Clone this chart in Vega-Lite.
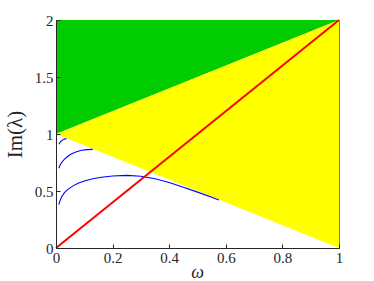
{
  "$schema": "https://vega.github.io/schema/vega-lite/v6.json",
  "width": 283,
  "height": 228,
  "autosize": {"type": "none"},
  "padding": {"left": 56, "top": 20, "right": 35, "bottom": 33},
  "background": "white",
  "config": {
    "view": {"stroke": "#7f7f7f", "strokeWidth": 1}
  },
  "datasets": {
    "regions": [
      {"region": "green", "w": 0, "lo": 1, "hi": 2},
      {"region": "green", "w": 1, "lo": 2, "hi": 2},
      {"region": "yellow", "w": 0, "lo": 1, "hi": 1},
      {"region": "yellow", "w": 1, "lo": 0, "hi": 2}
    ],
    "redline": [
      {"w": 0, "v": 0},
      {"w": 1, "v": 2}
    ],
    "curves": [
      {"curve": "c1", "w": 0.01, "v": 0.38},
      {"curve": "c1", "w": 0.015, "v": 0.42},
      {"curve": "c1", "w": 0.02, "v": 0.45},
      {"curve": "c1", "w": 0.03, "v": 0.485},
      {"curve": "c1", "w": 0.04, "v": 0.51},
      {"curve": "c1", "w": 0.06, "v": 0.545},
      {"curve": "c1", "w": 0.08, "v": 0.57},
      {"curve": "c1", "w": 0.1, "v": 0.588},
      {"curve": "c1", "w": 0.13, "v": 0.607},
      {"curve": "c1", "w": 0.16, "v": 0.62},
      {"curve": "c1", "w": 0.2, "v": 0.632},
      {"curve": "c1", "w": 0.25, "v": 0.637},
      {"curve": "c1", "w": 0.3, "v": 0.63},
      {"curve": "c1", "w": 0.35, "v": 0.608},
      {"curve": "c1", "w": 0.4, "v": 0.575},
      {"curve": "c1", "w": 0.45, "v": 0.533},
      {"curve": "c1", "w": 0.5, "v": 0.49},
      {"curve": "c1", "w": 0.55, "v": 0.445},
      {"curve": "c1", "w": 0.575, "v": 0.422},
      {"curve": "c2", "w": 0.01, "v": 0.70},
      {"curve": "c2", "w": 0.015, "v": 0.73},
      {"curve": "c2", "w": 0.02, "v": 0.75},
      {"curve": "c2", "w": 0.03, "v": 0.78},
      {"curve": "c2", "w": 0.04, "v": 0.80},
      {"curve": "c2", "w": 0.05, "v": 0.82},
      {"curve": "c2", "w": 0.07, "v": 0.843},
      {"curve": "c2", "w": 0.09, "v": 0.857},
      {"curve": "c2", "w": 0.11, "v": 0.863},
      {"curve": "c2", "w": 0.13, "v": 0.865},
      {"curve": "c3", "w": 0.01, "v": 0.91},
      {"curve": "c3", "w": 0.015, "v": 0.93},
      {"curve": "c3", "w": 0.02, "v": 0.942},
      {"curve": "c3", "w": 0.03, "v": 0.955},
      {"curve": "c3", "w": 0.037, "v": 0.96}
    ]
  },
  "layer": [
    {
      "data": {"name": "regions"},
      "mark": {"type": "area", "opacity": 1},
      "encoding": {
        "x": {"field": "w", "type": "quantitative", "scale": {"domain": [0, 1], "nice": false},
              "axis": {"values": [0, 0.2, 0.4, 0.6, 0.8, 1], "format": "~g", "labelFont": "Liberation Serif", "labelFontSize": 15, "labelColor": "#262626", "labelFlush": false, "labelOverlap": false, "domainColor": "#262626", "tickColor": "#262626", "tickSize": -4, "grid": false, "zindex": 1,
                       "title": "ω", "titleFont": "Liberation Serif", "titleFontSize": 18, "titleFontStyle": "italic", "titleFontWeight": "normal", "titleColor": "#262626", "labelPadding": 6, "titleX": 141, "titleY": 29, "titleBaseline": "alphabetic"}},
        "y": {"field": "lo", "type": "quantitative", "scale": {"domain": [0, 2], "nice": false},
              "axis": {"values": [0, 0.5, 1, 1.5, 2], "format": "~g", "labelFont": "Liberation Serif", "labelFontSize": 15, "labelColor": "#262626", "labelFlush": false, "labelOverlap": false, "domainColor": "#262626", "tickColor": "#262626", "tickSize": -4, "grid": false, "zindex": 1,
                       "title": "Im(λ)", "titleFont": "Liberation Serif", "titleFontSize": 21, "titleFontWeight": "normal", "titleColor": "#262626", "labelPadding": 7, "titleX": -41, "titleY": 114, "titleBaseline": "middle", "titleAngle": -90}},
        "y2": {"field": "hi"},
        "color": {"field": "region", "type": "nominal", "scale": {"domain": ["green", "yellow"], "range": ["#00cc00", "#ffff00"]}, "legend": null}
      }
    },
    {
      "data": {"name": "curves"},
      "mark": {"type": "line", "strokeWidth": 1.1, "color": "#0000ff"},
      "encoding": {
        "x": {"field": "w", "type": "quantitative"},
        "y": {"field": "v", "type": "quantitative"},
        "detail": {"field": "curve", "type": "nominal"}
      }
    },
    {
      "data": {"name": "redline"},
      "mark": {"type": "line", "strokeWidth": 2, "color": "#ff0000"},
      "encoding": {
        "x": {"field": "w", "type": "quantitative"},
        "y": {"field": "v", "type": "quantitative"}
      }
    }
  ]
}
